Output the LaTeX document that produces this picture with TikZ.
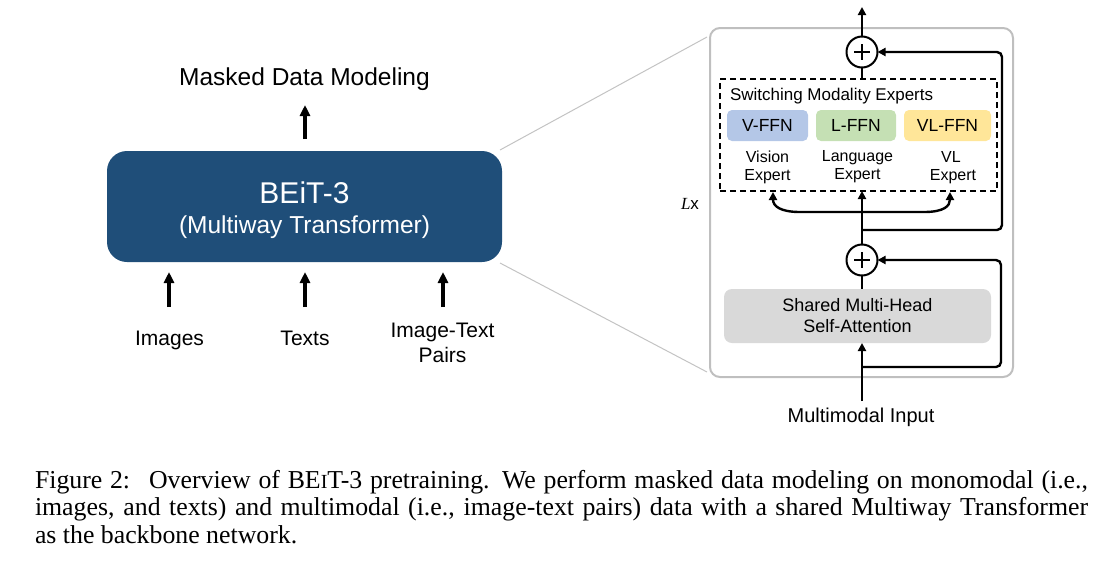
\documentclass[tikz,border=0pt]{standalone}
\usepackage{fontspec}
\setmainfont{Liberation Serif}
\setsansfont{Liberation Sans}
\usetikzlibrary{arrows.meta,calc}
\definecolor{beitblue}{RGB}{31,78,121}
\definecolor{vblue}{RGB}{180,199,231}
\definecolor{lgreen}{RGB}{197,224,180}
\definecolor{vlyellow}{RGB}{255,230,153}
\definecolor{sagray}{RGB}{217,217,217}
\definecolor{framegray}{RGB}{191,191,191}
\definecolor{zoomgray}{RGB}{195,195,195}
\newcommand{\fs}[2]{\fontsize{#1}{#2}\selectfont}
\begin{document}
\begin{tikzpicture}[x=1pt,y=-1pt,
  every node/.style={inner sep=0pt, outer sep=0pt, font=\sffamily},
  bigarr/.style={line width=3.2pt, -{Triangle[length=11pt,width=10pt]}},
  smallarr/.style={line width=2.4pt, -{Triangle[length=8pt,width=8pt]}},
  wire/.style={line width=2.4pt},
  ffn/.style={rounded corners=5pt, minimum width=81pt, minimum height=31pt, font=\sffamily\fs{17.5}{20}},
  plusnode/.style={circle, draw, line width=2pt, minimum size=31pt},
  lbl/.style={anchor=base, font=\sffamily\fs{16}{18}},
  inlbl/.style={anchor=base, font=\sffamily\fs{21}{25}},
  capline/.style={anchor=base west, font=\rmfamily\fs{25.8}{27.5}}
]
\useasboundingbox (0,0) rectangle (1114,571);

% ---------- left part ----------
\node[fill=beitblue, rounded corners=20pt, minimum width=395pt, minimum height=111pt] (beit) at (304.5,206.5) {};
\node[anchor=base, text=white, font=\sffamily\fs{30}{34}] (beitname) at (304.5,203) {BEiT-3};
\node[anchor=base, text=white, font=\sffamily\fs{24.5}{28}] (beitsub) at (304.5,233) {(Multiway Transformer)};

\node[anchor=base, font=\sffamily\fs{24.5}{28}] (mdm) at (304.5,85) {Masked Data Modeling};
\coordinate (mdmfrom) at (305,139);
\coordinate (mdmto) at (305,105);
\draw[bigarr] (mdmfrom) -- (mdmto);

\node[inlbl] (images) at (169.5,345) {Images};
\node[inlbl] (texts) at (305,345) {Texts};
\node[inlbl] (itp1) at (442.5,337) {Image-Text};
\node[inlbl] (itp2) at (442.5,362) {Pairs};
\coordinate (a1f) at (169,307); \coordinate (a1t) at (169,272);
\coordinate (a2f) at (305,307); \coordinate (a2t) at (305,272);
\coordinate (a3f) at (443,307); \coordinate (a3t) at (443,272);
\draw[bigarr] (a1f) -- (a1t);
\draw[bigarr] (a2f) -- (a2t);
\draw[bigarr] (a3f) -- (a3t);

% ---------- right panel ----------
\node[draw=framegray, line width=2pt, rounded corners=10pt, minimum width=303pt, minimum height=349pt] (frame) at (861.5,202.5) {};

% zoom lines
\coordinate (zl1) at (707,37);
\coordinate (zl2) at (707,372);
\draw[zoomgray, line width=1pt] ($(beit.north east)+(-2,-1)$) -- (zl1);
\draw[zoomgray, line width=1pt] ($(beit.south east)+(-2,1)$) -- (zl2);

% top plus
\node[plusnode] (p1) at (862,52) {};
\draw[line width=2pt] ($(p1)+(-8,0)$) -- ($(p1)+(8,0)$) ($(p1)+(0,-8)$) -- ($(p1)+(0,8)$);
\coordinate (outtop) at (862,7);
\draw[smallarr] (p1.north) -- (outtop);

% dashed experts box
\node[draw, line width=2pt, dash pattern=on 6pt off 4pt, minimum width=277pt, minimum height=112pt] (sme) at (858.5,135) {};
\draw[wire] (p1.south) -- (p1.south |- sme.north);
\node[anchor=base west, font=\sffamily\fs{17}{20}] (smetitle) at (730,100) {Switching Modality Experts};

\node[ffn, fill=vblue] (vffn) at (767.5,125.5) {V-FFN};
\node[ffn, fill=lgreen, minimum width=80pt] (lffn) at (856,125.5) {L-FFN};
\node[ffn, fill=vlyellow, minimum width=87pt] (vlffn) at (947.5,125.5) {VL-FFN};

\node[lbl] (ve1) at (767.5,162) {Vision};
\node[lbl] (ve2) at (767.5,180) {Expert};
\node[lbl] (le1) at (857.5,161) {Language};
\node[lbl] (le2) at (857.5,179) {Expert};
\node[lbl] (vle1) at (951,162) {VL};
\node[lbl] (vle2) at (953,180) {Expert};

\node[anchor=base west, font=\fs{17}{20}] (lx) at (681,209) {{\rmfamily\itshape L}\sffamily x};

% lower plus
\node[plusnode] (p2) at (862,260) {};
\draw[line width=2pt] ($(p2)+(-8,0)$) -- ($(p2)+(8,0)$) ($(p2)+(0,-8)$) -- ($(p2)+(0,8)$);
\draw[smallarr] (p2.north) -- (p2.north |- sme.south);

% routing curves
\coordinate (split) at (862,212);
\coordinate (ltip) at (773,192);
\coordinate (rtip) at (950,192);
\draw[smallarr] (split) -- (800,212) .. controls (780,212) and (773,206) .. (ltip);
\draw[smallarr] (split) -- (924,212) .. controls (944,212) and (950,206) .. (rtip);

% upper residual
\coordinate (j1) at (862,230);
\draw[smallarr, rounded corners=5pt] (j1) -- (1002,230) -- (1002,52) -- (p1.east);

% attention box
\node[fill=sagray, rounded corners=8pt, minimum width=267pt, minimum height=54pt, align=center, font=\sffamily\fs{18}{21}] (sa) at (857.5,316) {Shared Multi-Head\\Self-Attention};
\draw[wire] (p2.south) -- (p2.south |- sa.north);

% input
\node[anchor=base, font=\sffamily\fs{20}{24}] (input) at (861,422) {Multimodal Input};
\coordinate (inbase) at (862,401);
\draw[smallarr] (inbase) -- (inbase |- sa.south);
\coordinate (j2) at (862,367);
\draw[smallarr, rounded corners=5pt] (j2) -- (1001,367) -- (1001,260) -- (p2.east);

% ---------- caption ----------
\node[capline] (cap1) at (35,488) {\makebox[1053pt][s]{Figure 2:\hspace{0.3em} Overview of BE{\fs{20}{25}I}T-3 pretraining. We perform masked data modeling on monomodal (i.e.,}};
\node[capline] (cap2) at (35,515.5) {\makebox[1053pt][s]{images, and texts) and multimodal (i.e., image-text pairs) data with a shared Multiway Transformer}};
\node[capline] (cap3) at (35,543) {as the backbone network.};
\end{tikzpicture}
\end{document}
